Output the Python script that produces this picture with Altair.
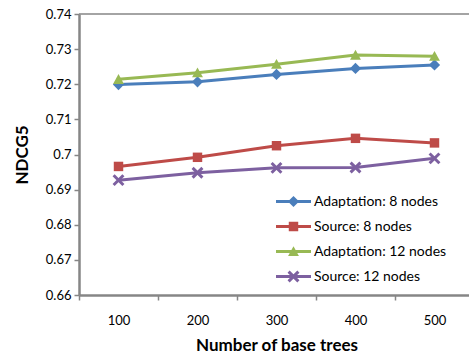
import altair as alt
import pandas as pd

# ---- data ----
trees = [100, 200, 300, 400, 500]
series_names = ["Adaptation: 8 nodes", "Source: 8 nodes", "Adaptation: 12 nodes", "Source: 12 nodes"]
adapt_8 = [0.7199, 0.7207, 0.7228, 0.7245, 0.7255]
source_8 = [0.6966, 0.6992, 0.7025, 0.7046, 0.7033]
adapt_12 = [0.7214, 0.7233, 0.7257, 0.7283, 0.7280]
source_12 = [0.6927, 0.6948, 0.6962, 0.6963, 0.6989]
y_ticks = [0.66, 0.67, 0.68, 0.69, 0.70, 0.71, 0.72, 0.73, 0.74]
colors = ["#4A7EBB", "#BE4B48", "#98B954", "#7D60A0"]

# ---- marker shapes (normalised to [-1, 1]) ----
diamond = "M0,-0.32L0.32,0L0,0.32L-0.32,0Z"
square = "M-0.27,-0.27L0.27,-0.27L0.27,0.27L-0.27,0.27Z"
triangle = "M0,-0.3L0.31,0.26L-0.31,0.26Z"
xmark = ("M-0.22,-0.34L0.34,0.22L0.22,0.34L-0.34,-0.22Z"
         "M-0.22,0.34L-0.34,0.22L0.22,-0.34L0.34,-0.22Z")
markers = [diamond, square, triangle, xmark]
line_seg = "M-1,-0.085L1,-0.085L1,0.085L-1,0.085Z"
legend_symbols = [line_seg + m for m in markers]

values = [adapt_8, source_8, adapt_12, source_12]
rows = []
for name, vals in zip(series_names, values):
    for t, v in zip(trees, vals):
        rows.append({"trees": t, "ndcg": v, "series": name})
df = pd.DataFrame(rows)
legend_df = pd.DataFrame({"entry": series_names})
top_df = pd.DataFrame({"ndcg": [y_ticks[-1]]})

FONT = "Lato"
GRAY = "#868686"

x_enc = alt.X(
    "trees:O",
    bandPosition=0.5,
    sort=trees,
    scale=alt.Scale(type="band", paddingInner=0, paddingOuter=0, range=[0, 395]),
    axis=alt.Axis(
        title="Number of base trees",
        labelAngle=0,
        tickBand="extent",
        tickSize=5,
        tickWidth=1.5,
        tickColor=GRAY,
        domainColor=GRAY,
        domainWidth=2.5,
        labelFont=FONT,
        labelFontSize=13,
        labelColor="#000000",
        labelPadding=14,
        titleFont=FONT,
        titleFontSize=17,
        titleFontWeight="bold",
        titleColor="#000000",
        titlePadding=10,
        grid=False,
    ),
)
y_enc = alt.Y(
    "ndcg:Q",
    scale=alt.Scale(domain=[0.66, 0.74], nice=False, zero=False),
    axis=alt.Axis(
        title="NDCG5",
        values=y_ticks,
        format=".2~f",
        labelOverlap=False,
        tickSize=5,
        tickWidth=1.5,
        tickColor=GRAY,
        domainColor=GRAY,
        domainWidth=2.5,
        labelFont=FONT,
        labelFontSize=13,
        labelColor="#000000",
        labelPadding=3,
        titleFont=FONT,
        titleFontSize=17,
        titleFontWeight="bold",
        titleColor="#000000",
        titlePadding=14,
        grid=False,
    ),
)

color_scale = alt.Scale(domain=series_names, range=colors)

base = alt.Chart(df)
lines = base.mark_line(strokeWidth=3).encode(
    x=x_enc, y=y_enc,
    color=alt.Color("series:N", scale=color_scale, legend=None),
)
points = base.mark_point(filled=True, size=1225, opacity=1).encode(
    x=x_enc, y=y_enc,
    color=alt.Color("series:N", scale=color_scale, legend=None),
    shape=alt.Shape("series:N", scale=alt.Scale(domain=series_names, range=markers), legend=None),
)
top_line = alt.Chart(top_df).mark_rule(color=GRAY, strokeWidth=1.5).encode(y=y_enc)

leg = alt.Legend(
    title=None, orient="none", legendX=197, legendY=170,
    labelFont=FONT, labelFontSize=14, labelColor="#000000",
    symbolOpacity=1, symbolSize=1225, symbolStrokeWidth=0,
    rowPadding=-1, labelOffset=3,
)
legend_layer = alt.Chart(legend_df).mark_point(filled=True, size=1225, opacity=0).encode(
    color=alt.Color("entry:N", scale=alt.Scale(domain=series_names, range=colors), legend=leg),
    shape=alt.Shape("entry:N", scale=alt.Scale(domain=series_names, range=legend_symbols), legend=leg),
)

chart = (
    alt.layer(top_line, lines, points, legend_layer)
    .resolve_scale(color="independent", shape="independent")
    .properties(
        width=390,
        height=281,
        autosize=alt.AutoSizeParams(type="none"),
        padding={"left": 79, "top": 14, "right": 0, "bottom": 63},
        background="white",
    )
    .configure_view(stroke=None)
)

chart.save("out.html", embed_options={"renderer": "svg", "actions": False})
